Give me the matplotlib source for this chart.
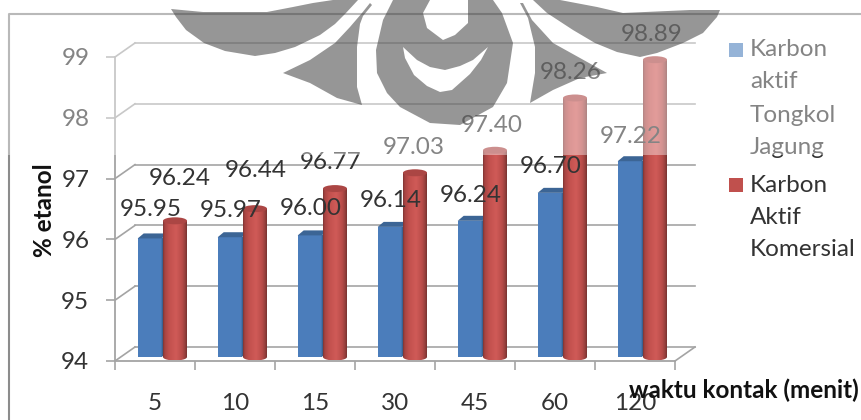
import numpy as np
import matplotlib
matplotlib.use("Agg")
import matplotlib.pyplot as plt
from matplotlib.colors import LinearSegmentedColormap
from matplotlib.patches import Ellipse, PathPatch, Rectangle
from matplotlib.path import Path

plt.rcParams['font.family'] = ['Lato', 'DejaVu Sans']

waktu = ["5", "10", "15", "30", "45", "60", "120"]
tongkol = [95.95, 95.97, 96.00, 96.14, 96.24, 96.70, 97.22]
komersial = [96.24, 96.44, 96.77, 97.03, 97.40, 98.26, 98.89]
y_ticks = [94, 95, 96, 97, 98, 99]

W, H = 861, 420
PX_X = 80.0    # pixels per category
PX_Y = 60.8    # pixels per percent

# depth of the pseudo 3d box, in data units
bar_dx, bar_dy = 8 / PX_X, 4 / PX_Y
back_dx, back_dy = 20 / PX_X, 14 / PX_Y

GRID = "#a4a4a4"
TXT = "#333333"
FS = 17.5

fig = plt.figure(figsize=(W / 100, H / 100), dpi=100)
ax = fig.add_axes([115 / W, (H - 361) / H, 560 / W, 304 / H])
ax.patch.set_alpha(0)

# back wall and side walls
for v in y_ticks:
    ax.plot([back_dx, 7 + back_dx], [v + back_dy, v + back_dy], color=GRID, lw=1.2, clip_on=False, zorder=1)
    ax.plot([0, back_dx], [v, v + back_dy], color=GRID, lw=1.2, clip_on=False, zorder=1)
ax.plot([7, 7 + back_dx], [94, 94 + back_dy], color=GRID, lw=1.2, clip_on=False, zorder=1)

cyl_cmap = LinearSegmentedColormap.from_list("cyl", [
    (0.0, "#7f3533"), (0.07, "#a84442"), (0.25, "#c2504d"), (0.55, "#d05b58"),
    (0.8, "#b94c49"), (0.93, "#96403d"), (1.0, "#78322f")])
gradient = np.linspace(0, 1, 64).reshape(1, -1)

bar_w = 24 / PX_X
ell_h = 3.5 / PX_Y

for i in range(len(waktu)):
    x_mid = i + 0.5 + bar_dx
    base = 94 + bar_dy

    # square bar
    x0 = x_mid - bar_w - 1.3 / PX_X
    top = tongkol[i] + bar_dy
    ax.bar(x0, tongkol[i] - 94, width=bar_w, bottom=base, align="edge", color="#4b7dbb", clip_on=False, zorder=3)
    sx, sy = 6 / PX_X, 5 / PX_Y
    ax.fill([x0, x0 + sx, x0 + bar_w + sx, x0 + bar_w],
            [top, top + sy, top + sy, top], color="#3c6595", lw=0, clip_on=False, zorder=3)
    ax.fill([x0 + bar_w, x0 + bar_w + sx, x0 + bar_w + sx, x0 + bar_w],
            [top, top + sy, base + sy, base], color="#3a6190", lw=0, clip_on=False, zorder=3)

    # cylinder, gradient clipped to its outline
    xl, xr = x_mid, x_mid + bar_w
    top = komersial[i] + bar_dy
    xc = (xl + xr) / 2
    t = np.linspace(np.pi, 2 * np.pi, 24)
    bx = xc + bar_w / 2 * np.cos(t)
    by = base + ell_h * np.sin(t)
    verts = list(zip(bx, by)) + [(xr, top), (xl, top), (xl, base)]
    outline = PathPatch(Path(verts, closed=True), transform=ax.transData, fc="none", ec="none")
    ax.add_patch(outline)
    outline.set_clip_on(False)
    im = ax.imshow(gradient, extent=[xl, xr, base - ell_h, top], aspect="auto", cmap=cyl_cmap,
                   vmin=0, vmax=1, zorder=4, interpolation="bilinear")
    im.set_clip_path(outline)
    im.set_clip_box(fig.bbox)
    ax.add_patch(Ellipse((xc, top), bar_w, 2 * ell_h, fc="#ab4644", ec="none", clip_on=False, zorder=4))

# value labels float a fixed distance above the bars, a few sit higher
nudge_tongkol = [4, 2, 2, 1, 0, 1, 0]
nudge_komersial = [17, 13, 1, 0, 0, 0, 0]
shift_komersial = [5, 1, -4, -1, -3, -4, -3]
for i in range(len(waktu)):
    x_mid = i + 0.5 + bar_dx
    ax.annotate(f"{tongkol[i]:.2f}", (x_mid - bar_w / 2, tongkol[i] + bar_dy), xytext=(0, 25 + nudge_tongkol[i]),
                textcoords="offset pixels", ha="center", va="center", fontsize=FS, color=TXT, zorder=6, annotation_clip=False)
    ax.annotate(f"{komersial[i]:.2f}", (x_mid + bar_w / 2, komersial[i] + bar_dy),
                xytext=(shift_komersial[i], 25 + nudge_komersial[i]),
                textcoords="offset pixels", ha="center", va="center", fontsize=FS, color=TXT, zorder=6, annotation_clip=False)

ax.set_xlim(0, 7)
ax.set_ylim(94, 99)
ax.set_xticks(range(8))
ax.set_xticklabels([])
ax.set_xticks(np.arange(7) + 0.5, labels=waktu, minor=True)
ax.set_yticks(y_ticks)
ax.tick_params(axis="x", which="major", length=6.5, width=1.2, color=GRID)
ax.tick_params(axis="x", which="minor", length=0, labelsize=FS, labelcolor=TXT, pad=23)
ax.tick_params(axis="y", length=6.5, width=1.2, color=GRID, labelsize=FS, labelcolor=TXT, pad=12)
for s in ["top", "right"]:
    ax.spines[s].set_visible(False)
for s in ["left", "bottom"]:
    ax.spines[s].set_color(GRID)
    ax.spines[s].set_linewidth(1.3)
    ax.spines[s].set_zorder(2)

# layer above the plot, drawn in pixels from the top left
top_ax = fig.add_axes([0, 0, 1, 1], zorder=5)
top_ax.set_xlim(0, W)
top_ax.set_ylim(H, 0)
top_ax.axis("off")

top_ax.plot([9, 9, W], [H, 14, 14], color="#8c8c8c", lw=1.5, zorder=1)

top_ax.text(44, 210, "% etanol", rotation=90, ha="center", va="center", fontsize=FS, fontweight="bold", color="#111111", zorder=2)
top_ax.text(744, 390, "waktu kontak (menit)", ha="center", va="center", fontsize=FS, fontweight="bold", color="#111111", zorder=2)

# legend
top_ax.add_patch(Rectangle((729, 43), 14, 14, fc="#4f81bd", ec="none", zorder=2))
top_ax.add_patch(Rectangle((729, 178), 14, 14, fc="#c0504d", ec="none", zorder=2))
for y, line in zip([50, 82, 115, 147], ["Karbon", "aktif", "Tongkol", "Jagung"]):
    top_ax.text(750, y, line, ha="left", va="center", fontsize=FS, color=TXT, zorder=2)
for y, line in zip([185, 217, 249], ["Karbon", "Aktif", "Komersial"]):
    top_ax.text(750, y, line, ha="left", va="center", fontsize=FS, color=TXT, zorder=2)

# pale band over the upper part of the page
top_ax.add_patch(Rectangle((0, 0), W, 155, fc="white", ec="none", alpha=0.4, zorder=3))

# emblem printed over the page
def ring(pts, clockwise=True):
    pts = np.array(pts, float)
    x, y = pts[:, 0], pts[:, 1]
    area = np.sum(x * np.roll(y, -1) - np.roll(x, -1) * y)
    if (area > 0) != clockwise:
        pts = pts[::-1]
    return Path(np.vstack([pts, pts[0]]), closed=True)

emblem = [
    ring([(171, 9), (176, 17), (186, 30), (204, 43), (225, 51), (255, 56), (275, 53), (295, 47), (320, 35),
          (335, 24), (345, 14), (358, 0), (333, 0), (313, 3), (293, 7), (267, 12), (203, 12)]),
    ring([(283, 73), (310, 60), (335, 43), (350, 27), (362, 13), (370, 3), (372, 5), (363, 16), (360, 24),
          (357, 47), (357, 87), (362, 105), (337, 98), (310, 83)]),
    ring([(393, 0), (383, 20), (376, 50), (377, 73), (387, 93), (400, 107), (430, 123), (460, 125), (493, 107),
          (507, 83), (513, 43), (502, 13), (493, 0)]),
    ring([(430, 0), (423, 13), (427, 28), (443, 40), (455, 35), (468, 23), (468, 0)], clockwise=False),
    ring([(403, 47), (405, 58), (414, 75), (427, 86), (440, 92), (452, 90), (470, 74), (481, 60), (488, 47),
          (473, 60), (460, 66), (445, 70), (430, 67), (417, 60)], clockwise=False),
    ring([(520, 3), (528, 18), (535, 47), (535, 73), (530, 103), (553, 90), (580, 78), (607, 73), (580, 58),
          (553, 43), (532, 20), (523, 3)]),
    ring([(533, 0), (547, 13), (573, 30), (595, 43), (617, 52), (640, 57), (657, 53), (683, 43), (703, 33),
          (717, 17), (720, 10), (690, 10), (623, 13), (597, 7), (560, 0)]),
]
top_ax.add_patch(PathPatch(Path.make_compound_path(*emblem), fc="#404040", ec="none", alpha=0.55, zorder=4))

fig.savefig("out.png", dpi=100)
